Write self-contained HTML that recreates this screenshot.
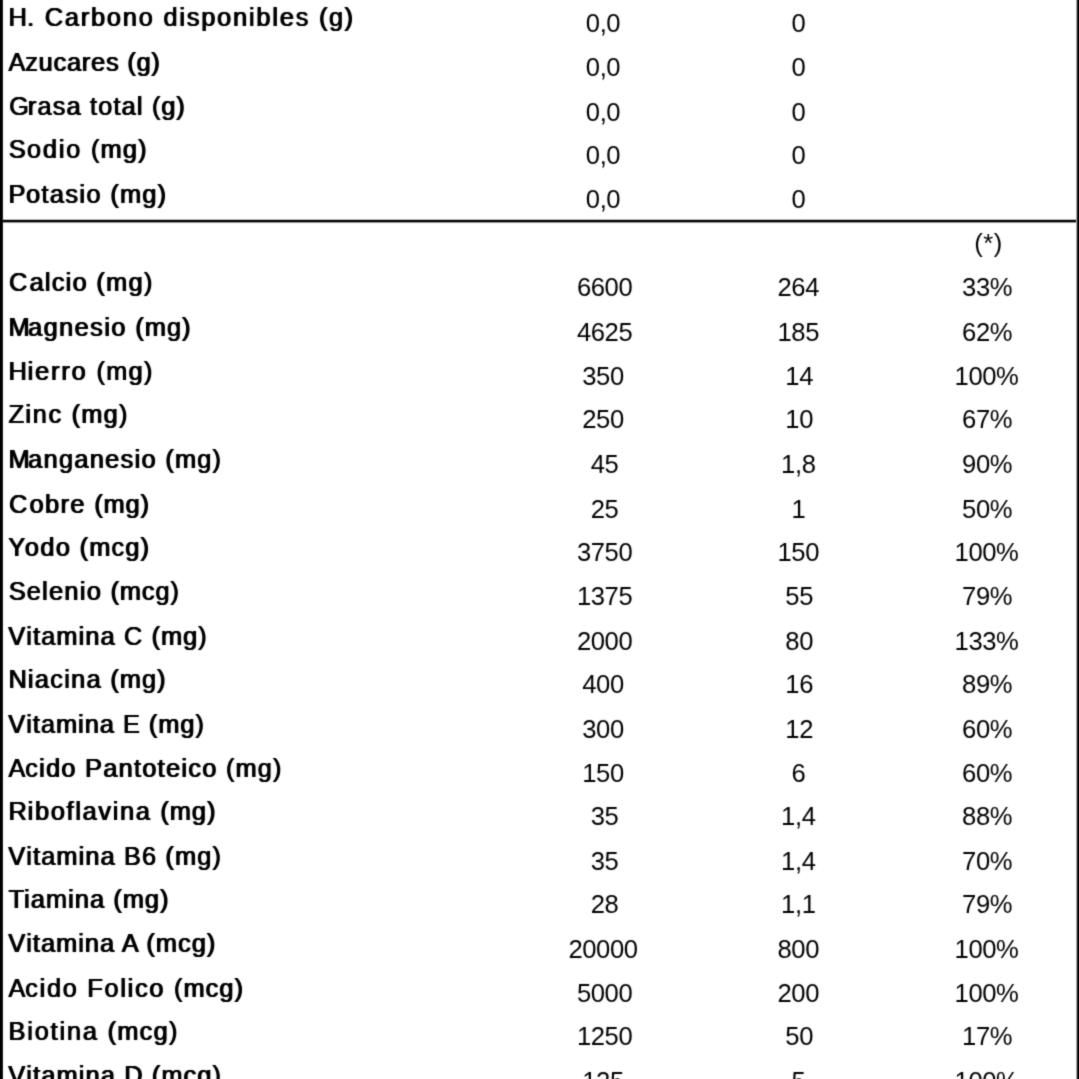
<!DOCTYPE html>
<html><head><meta charset="utf-8"><title>Tabla</title>
<style>
html,body{margin:0;padding:0;background:#fff;}
body{width:1079px;height:1079px;position:relative;overflow:hidden;font-family:"Liberation Sans",sans-serif;color:#000;}
#w{position:absolute;left:0;top:0;width:1079px;height:1079px;overflow:hidden;background:#fff;filter:grayscale(1) url(#bl);}
.bl{position:absolute;left:0;top:0;width:3px;height:1079px;background:linear-gradient(to right,#000 0,#000 2px,#1a1a1a 2px);}
.br{position:absolute;left:1076px;top:0;width:3px;height:1079px;background:linear-gradient(to right,#b3b3b3 0,#b3b3b3 1px,#1a1a1a 1px,#1a1a1a 2px,#000 2px);}
.hl{position:absolute;left:0;top:219px;width:1079px;height:4px;background:linear-gradient(to bottom,#c8c8c8 0,#c8c8c8 1px,#000 1px,#000 3px,#9a9a9a 3px);}
#w>span{position:absolute;white-space:pre;line-height:0;height:0;}
.l{font-size:25.2px;text-shadow:0.6px 0 0 #000,1.2px 0 0 #000;}
.n{font-size:25.6px;letter-spacing:-0.4px;}
</style></head><body>
<svg width="0" height="0" style="position:absolute"><filter id="bl" x="0" y="0" width="100%" height="100%" color-interpolation-filters="sRGB"><feConvolveMatrix order="5" kernelMatrix="0.00000 0.00021 0.00092 0.00021 0.00000 0.00021 0.02475 0.10739 0.02475 0.00021 0.00092 0.10739 0.46607 0.10739 0.00092 0.00021 0.02475 0.10739 0.02475 0.00021 0.00000 0.00021 0.00092 0.00021 0.00000" edgeMode="duplicate" preserveAlpha="true"/></filter></svg>
<div id="w"><div class="hl"></div><div class="bl"></div><div class="br"></div>
<span class="l" style="left:7.97px;top:17px;letter-spacing:1.880px"><span style="letter-spacing:0.326px">H</span>. Carbono disponibles <span style="letter-spacing:1.552px">(g)</span></span>
<span class="n" style="left:585.81px;top:23px">0,0</span>
<span class="n" style="left:791.38px;top:23px">0</span>
<span class="l" style="left:7.88px;top:62px;letter-spacing:0.873px"><span style="letter-spacing:-0.064px">A</span>zucares <span style="letter-spacing:0.833px">(g)</span></span>
<span class="n" style="left:585.81px;top:67px">0,0</span>
<span class="n" style="left:791.38px;top:67px">0</span>
<span class="l" style="left:8.65px;top:106px;letter-spacing:1.228px"><span style="letter-spacing:-0.958px">G</span>rasa total <span style="letter-spacing:0.956px">(g)</span></span>
<span class="n" style="left:585.81px;top:112px">0,0</span>
<span class="n" style="left:791.38px;top:112px">0</span>
<span class="l" style="left:8.37px;top:149px;letter-spacing:1.875px"><span style="letter-spacing:1.254px">S</span>odio <span style="letter-spacing:1.267px">(mg)</span></span>
<span class="n" style="left:585.81px;top:155px">0,0</span>
<span class="n" style="left:791.38px;top:155px">0</span>
<span class="l" style="left:7.97px;top:194px;letter-spacing:1.453px"><span style="letter-spacing:0.654px">P</span>otasio <span style="letter-spacing:1.242px">(mg)</span></span>
<span class="n" style="left:585.81px;top:199px">0,0</span>
<span class="n" style="left:791.38px;top:199px">0</span>
<span class="n" style="left:974.29px;top:243px;letter-spacing:0.45px">(*)</span>
<span class="l" style="left:8.51px;top:282px;letter-spacing:1.327px"><span style="letter-spacing:2.239px">C</span>alcio <span style="letter-spacing:1.436px">(mg)</span></span>
<span class="n" style="left:576.92px;top:287px">6600</span>
<span class="n" style="left:777.54px;top:287px">264</span>
<span class="n" style="left:962.08px;top:287px">33%</span>
<span class="l" style="left:7.97px;top:327px;letter-spacing:1.500px"><span style="letter-spacing:-1.386px">M</span>agnesio <span style="letter-spacing:1.103px">(mg)</span></span>
<span class="n" style="left:576.92px;top:332px">4625</span>
<span class="n" style="left:777.54px;top:332px">185</span>
<span class="n" style="left:962.08px;top:332px">62%</span>
<span class="l" style="left:7.97px;top:371px;letter-spacing:1.911px"><span style="letter-spacing:0.870px">H</span>ierro <span style="letter-spacing:1.375px">(mg)</span></span>
<span class="n" style="left:582.24px;top:376px">350</span>
<span class="n" style="left:785.36px;top:376px">14</span>
<span class="n" style="left:954.56px;top:376px">100%</span>
<span class="l" style="left:8.00px;top:414px;letter-spacing:1.781px"><span style="letter-spacing:1.394px">Z</span>inc <span style="letter-spacing:1.306px">(mg)</span></span>
<span class="n" style="left:582.24px;top:419px">250</span>
<span class="n" style="left:785.36px;top:419px">10</span>
<span class="n" style="left:962.08px;top:419px">67%</span>
<span class="l" style="left:7.97px;top:459px;letter-spacing:1.397px"><span style="letter-spacing:-1.386px">M</span>anganesio <span style="letter-spacing:1.242px">(mg)</span></span>
<span class="n" style="left:590.76px;top:464px">45</span>
<span class="n" style="left:781.11px;top:464px">1,8</span>
<span class="n" style="left:962.08px;top:464px">90%</span>
<span class="l" style="left:8.51px;top:504px;letter-spacing:1.494px"><span style="letter-spacing:2.239px">C</span>obre <span style="letter-spacing:0.909px">(mg)</span></span>
<span class="n" style="left:590.76px;top:509px">25</span>
<span class="n" style="left:791.38px;top:509px">1</span>
<span class="n" style="left:962.08px;top:509px">50%</span>
<span class="l" style="left:7.83px;top:547px;letter-spacing:1.437px"><span style="letter-spacing:-0.345px">Y</span>odo <span style="letter-spacing:1.223px">(mcg)</span></span>
<span class="n" style="left:576.92px;top:552px">3750</span>
<span class="n" style="left:777.54px;top:552px">150</span>
<span class="n" style="left:954.56px;top:552px">100%</span>
<span class="l" style="left:8.37px;top:591px;letter-spacing:1.376px"><span style="letter-spacing:0.954px">S</span>elenio <span style="letter-spacing:0.989px">(mcg)</span></span>
<span class="n" style="left:576.92px;top:596px">1375</span>
<span class="n" style="left:785.36px;top:596px">55</span>
<span class="n" style="left:962.08px;top:596px">79%</span>
<span class="l" style="left:7.87px;top:636px;letter-spacing:1.192px"><span style="letter-spacing:1.003px">V</span>itamina C <span style="letter-spacing:1.101px">(mg)</span></span>
<span class="n" style="left:576.92px;top:641px">2000</span>
<span class="n" style="left:785.36px;top:641px">80</span>
<span class="n" style="left:954.56px;top:641px">133%</span>
<span class="l" style="left:7.97px;top:679px;letter-spacing:1.398px"><span style="letter-spacing:1.070px">N</span>iacina <span style="letter-spacing:1.096px">(mg)</span></span>
<span class="n" style="left:582.24px;top:684px">400</span>
<span class="n" style="left:785.36px;top:684px">16</span>
<span class="n" style="left:962.08px;top:684px">89%</span>
<span class="l" style="left:7.87px;top:724px;letter-spacing:1.067px"><span style="letter-spacing:1.003px">V</span>itamina E <span style="letter-spacing:1.063px">(mg)</span></span>
<span class="n" style="left:582.24px;top:729px">300</span>
<span class="n" style="left:785.36px;top:729px">12</span>
<span class="n" style="left:962.08px;top:729px">60%</span>
<span class="l" style="left:7.88px;top:768px;letter-spacing:1.345px"><span style="letter-spacing:-0.064px">A</span>cido Pantoteico <span style="letter-spacing:1.213px">(mg)</span></span>
<span class="n" style="left:582.24px;top:773px">150</span>
<span class="n" style="left:791.38px;top:773px">6</span>
<span class="n" style="left:962.08px;top:773px">60%</span>
<span class="l" style="left:7.97px;top:811px;letter-spacing:1.750px"><span style="letter-spacing:0.951px">R</span>iboflavina <span style="letter-spacing:1.103px">(mg)</span></span>
<span class="n" style="left:590.76px;top:816px">35</span>
<span class="n" style="left:781.11px;top:816px">1,4</span>
<span class="n" style="left:962.08px;top:816px">88%</span>
<span class="l" style="left:7.87px;top:856px;letter-spacing:1.194px"><span style="letter-spacing:1.003px">V</span>itamina B6 <span style="letter-spacing:1.238px">(mg)</span></span>
<span class="n" style="left:590.76px;top:861px">35</span>
<span class="n" style="left:781.11px;top:861px">1,4</span>
<span class="n" style="left:962.08px;top:861px">70%</span>
<span class="l" style="left:8.08px;top:899px;letter-spacing:1.158px"><span style="letter-spacing:0.029px">T</span>iamina <span style="letter-spacing:1.087px">(mg)</span></span>
<span class="n" style="left:590.76px;top:904px">28</span>
<span class="n" style="left:781.11px;top:904px">1,1</span>
<span class="n" style="left:962.08px;top:904px">79%</span>
<span class="l" style="left:7.87px;top:943px;letter-spacing:1.097px"><span style="letter-spacing:1.003px">V</span>itamina A <span style="letter-spacing:1.125px">(mcg)</span></span>
<span class="n" style="left:568.41px;top:949px">20000</span>
<span class="n" style="left:777.54px;top:949px">800</span>
<span class="n" style="left:954.56px;top:949px">100%</span>
<span class="l" style="left:7.88px;top:988px;letter-spacing:1.781px"><span style="letter-spacing:-0.064px">A</span>cido Folico <span style="letter-spacing:1.166px">(mcg)</span></span>
<span class="n" style="left:576.92px;top:993px">5000</span>
<span class="n" style="left:777.54px;top:993px">200</span>
<span class="n" style="left:954.56px;top:993px">100%</span>
<span class="l" style="left:7.97px;top:1031px;letter-spacing:1.891px"><span style="letter-spacing:1.867px">B</span>iotina <span style="letter-spacing:1.329px">(mcg)</span></span>
<span class="n" style="left:576.92px;top:1036px">1250</span>
<span class="n" style="left:785.36px;top:1036px">50</span>
<span class="n" style="left:962.08px;top:1036px">17%</span>
<span class="l" style="left:7.87px;top:1075px;letter-spacing:1.228px"><span style="letter-spacing:1.003px">V</span>itamina D <span style="letter-spacing:1.148px">(mcg)</span></span>
<span class="n" style="left:582.24px;top:1081px">125</span>
<span class="n" style="left:791.38px;top:1081px">5</span>
<span class="n" style="left:954.56px;top:1081px">100%</span>
</div></body></html>
